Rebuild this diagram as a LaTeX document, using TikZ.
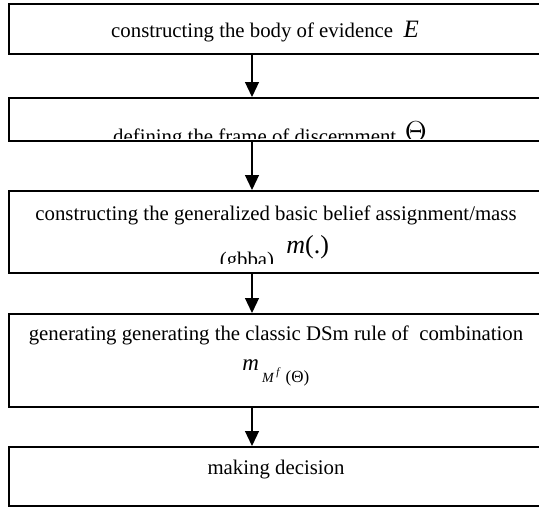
\documentclass[tikz,border=0pt]{standalone}
\usepackage{fontspec}
\setmainfont{Liberation Serif}
\usepackage{tikz}
\usetikzlibrary{arrows.meta,positioning,calc}

\begin{document}
\begin{tikzpicture}[x=0.5pt,y=-0.5pt,>={Triangle[width=7pt,length=7.5pt]},
  box/.style={draw,line width=0.8pt,minimum width=268pt,anchor=north west,inner sep=0pt},
  txt/.style={anchor=base,inner sep=0pt,font=\fontsize{10.4}{12}\selectfont},
  flow/.style={->,line width=0.6pt}]
 \useasboundingbox (0,0) rectangle (539,509);
 \node[box,minimum height=25pt] (b1) at (8,3) {};
 \node[box,minimum height=21.5pt] (b2) at (8,97) {};
 \node[box,minimum height=41pt] (b3) at (8,190) {};
 \node[box,minimum height=46.5pt] (b4) at (8,313) {};
 \node[box,minimum height=29.5pt] (b5) at (8,446) {};
 \coordinate (ax) at (252,0);
 \node[txt] (t1) at (265,37) {constructing the body of evidence \ {\fontsize{12.5}{14}\selectfont\textit{E}}};
 \begin{scope}
  \clip (b2.north west) rectangle ([yshift=1.5pt]b2.south east);
  \node[txt] (t2) at (270,143) {defining the frame of discernment \,{\fontsize{13.5}{14}\selectfont\raisebox{1pt}{$\Theta$}}};
 \end{scope}
 \node[txt] (t3) at (276,220) {constructing the generalized basic belief assignment/mass};
 \begin{scope}
  \clip (b3.north west) rectangle ([yshift=5pt]b3.south east);
  \node[txt] (t3g) at (247,266) {(gbba)};
 \end{scope}
 \node[txt,anchor=base west,font=\fontsize{13}{14}\selectfont] (t3m) at (286,253) {\textit{m}(.)};
 \node[txt] (t4) at (276,340) {generating generating the classic DSm rule of \ combination};
 \node[txt,anchor=base west,font=\fontsize{11.5}{13}\selectfont] (t4m) at (242,370)
  {\textit{m}\kern1.5pt\raisebox{-6pt}{\fontsize{7}{8}\selectfont\textit{M}\kern1pt\raisebox{3.5pt}{\fontsize{5.5}{6}\selectfont\textit{f}}\kern2.5pt{\fontsize{8.5}{9}\selectfont(Θ)}}};
 \node[txt] (t5) at (276,474) {making decision};
 \draw[flow] (b1.south -| ax) -- (b2.north -| ax);
 \draw[flow] (b2.south -| ax) -- (b3.north -| ax);
 \draw[flow] (b3.south -| ax) -- (b4.north -| ax);
 \draw[flow] (b4.south -| ax) -- (b5.north -| ax);
\end{tikzpicture}
\end{document}
